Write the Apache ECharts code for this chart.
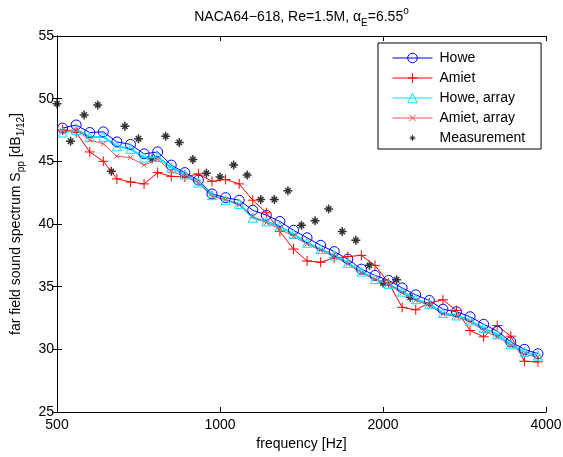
<!DOCTYPE html>
<html><head><meta charset="utf-8">
<script src="https://cdn.jsdelivr.net/npm/echarts@6/dist/echarts.min.js"></script>
<style>html,body{margin:0;padding:0;background:#fff}#c{width:563px;height:457px}</style>
</head><body><div id="c"></div>
<script>
// 1/12-octave band centre frequencies of the model predictions [Hz]
const modelFreq = [512, 542.44, 574.70, 608.87, 645.08, 683.44, 724.08, 767.13, 812.75, 861.08, 912.28, 966.53,
  1024, 1084.89, 1149.40, 1217.75, 1290.16, 1366.87, 1448.15, 1534.27, 1625.50, 1722.16, 1824.56, 1933.06,
  2048, 2169.78, 2298.80, 2435.50, 2580.32, 2733.75, 2896.31, 3068.54, 3251.00, 3444.31, 3649.12, 3866.11];
// measurement band frequencies [Hz]
const measFreq = [500, 529.7, 561.2, 594.6, 630.0, 667.4, 707.1, 749.2, 793.7, 840.9, 890.9, 943.9,
  1000, 1059.5, 1122.5, 1189.2, 1259.9, 1334.8, 1414.2, 1498.3, 1587.4, 1681.8, 1781.8, 1887.7, 2000, 2118.9, 2244.9];

const howe = [47.65, 47.9, 47.3, 47.35, 46.55, 46.35, 45.6, 45.75, 44.7, 44.1, 43.5, 42.4, 42.1, 41.9, 41.1, 40.7,
  40.2, 39.5, 38.9, 38.3, 37.8, 37.2, 36.4, 35.9, 35.5, 34.9, 34.35, 33.9, 33.2, 33.0, 32.6, 32.0, 31.45, 30.6, 30.0, 29.65];
const amiet = [47.5, 47.3, 45.75, 45.0, 43.6, 43.35, 43.2, 44.1, 43.8, 43.75, 44.0, 43.4, 43.55, 43.2, 41.9, 40.9,
  39.4, 38.0, 37.05, 36.95, 37.3, 37.4, 37.5, 36.7, 35.3, 33.35, 33.15, 33.7, 33.95, 33.1, 31.5, 31.0, 31.9, 31.05, 29.05, 29.0];
const howeArray = [47.3, 47.5, 46.95, 46.95, 46.2, 46.0, 45.3, 45.35, 44.5, 43.95, 43.3, 42.3, 41.9, 41.6, 40.5, 40.2,
  39.8, 39.2, 38.5, 38.0, 37.5, 36.9, 36.2, 35.6, 35.2, 34.6, 34.0, 33.6, 32.9, 32.7, 32.3, 31.7, 31.2, 30.4, 29.8, 29.5];
const amietArray = [47.45, 47.5, 46.7, 46.4, 45.4, 45.3, 44.7, 45.15, 44.2, 43.8, 43.3, 42.2, 41.95, 41.5, 40.6, 40.1,
  39.6, 39.0, 38.4, 37.9, 37.4, 36.8, 36.1, 35.6, 35.2, 34.5, 33.9, 33.5, 32.8, 32.6, 32.2, 31.5, 31.0, 30.3, 29.6, 29.4];
const measurement = [49.6, 46.6, 48.7, 49.5, 44.2, 47.8, 46.8, 45.2, 47.0, 46.5, 45.15, 44.05, 43.75, 44.7, 43.9, 41.95,
  41.95, 42.65, 39.9, 40.25, 41.2, 39.4, 38.7, 36.7, 35.3, 35.55, 34.15];

const xTickFreqs = [500, 1000, 2000, 4000];
const yTicks = [25, 30, 35, 40, 45, 50, 55];

const F0 = xTickFreqs[0];
const toX = f => Math.log2(f / F0);
const pairs = (fs, vs) => vs.map((v, i) => [toX(fs[i]), v]);

const FONT = 'Liberation Sans';
const PLUS = 'path://M5,0 L5,10 M0,5 L10,5';
const CROSS = 'path://M-2.5,-2.5 M12.5,12.5 M0,0 L10,10 M10,0 L0,10';
const STAR = 'path://M0,0 M20,20 M10,5 L10,15 M5,10 L15,10 M7,7 L13,13 M13,7 L7,13';

const chart = echarts.init(document.getElementById('c'), null, {renderer: 'canvas'});
const axisCommon = {
  type: 'value', min: 0, max: toX(xTickFreqs[3]), interval: 1,
  axisLine: {show: true, lineStyle: {color: '#000', width: 1}},
  axisTick: {show: true, inside: true, length: 5, lineStyle: {color: '#000'}},
  splitLine: {show: false}
};
const yCommon = {
  type: 'value', min: yTicks[0], max: yTicks[yTicks.length - 1], interval: 5,
  axisLine: {show: true, lineStyle: {color: '#000', width: 1}},
  axisTick: {show: true, inside: true, length: 5, lineStyle: {color: '#000'}},
  splitLine: {show: false}
};

chart.setOption({
  animation: false,
  backgroundColor: '#fff',
  textStyle: {fontFamily: FONT},
  title: {
    text: 'NACA64\u2212618, Re=1.5M, \u03b1{sub|E}=6.55{sup|o}',
    left: 296.5, top: 1, textAlign: 'center',
    textStyle: {
      fontFamily: FONT, fontSize: 14, fontWeight: 'normal', color: '#000', lineHeight: 22,
      rich: {
        sub: {fontFamily: FONT, fontSize: 10, lineHeight: 10, verticalAlign: 'bottom', color: '#000'},
        sup: {fontFamily: FONT, fontSize: 10, lineHeight: 10, verticalAlign: 'top', color: '#000'}
      }
    }
  },
  grid: {left: 57, right: 17, top: 36, bottom: 45, show: false, outerBoundsMode: 'none', containLabel: false},
  xAxis: [
    Object.assign({}, axisCommon, {
      position: 'bottom',
      axisLabel: {show: true, fontSize: 14, color: '#000', fontFamily: FONT, margin: 6,
        formatter: v => String(Math.round(F0 * Math.pow(2, v)))},
      name: 'frequency [Hz]', nameLocation: 'middle', nameGap: 25,
      nameTextStyle: {fontSize: 14, color: '#000', fontFamily: FONT}
    }),
    Object.assign({}, axisCommon, {position: 'top', axisLabel: {show: false}})
  ],
  yAxis: [
    Object.assign({}, yCommon, {
      position: 'left',
      axisLabel: {show: true, fontSize: 14, color: '#000', fontFamily: FONT, margin: 3},
      name: 'far field sound spectrum S{sub|pp} [dB{sub|1/12}]',
      nameLocation: 'middle', nameGap: 31,
      nameTextStyle: {fontSize: 14, color: '#000', fontFamily: FONT, lineHeight: 20,
        rich: {sub: {fontFamily: FONT, fontSize: 10, lineHeight: 10, verticalAlign: 'bottom', color: '#000'}}}
    }),
    Object.assign({}, yCommon, {position: 'right', axisLabel: {show: false}})
  ],
  legend: {
    orient: 'vertical', left: 378, top: 43,
    backgroundColor: '#fff', borderColor: '#000', borderWidth: 1, borderRadius: 0,
    padding: [8, 16, 4, 14],
    itemWidth: 40, itemHeight: 12, itemGap: 6,
    lineStyle: {width: 1},
    itemStyle: {borderWidth: 1},
    textStyle: {fontSize: 14, color: '#000', fontFamily: FONT, padding: [0, 0, 0, 2]},
    data: ['Howe', 'Amiet', 'Howe, array', 'Amiet, array', 'Measurement']
  },
  series: [
    {
      name: 'Howe', type: 'line', data: pairs(modelFreq, howe),
      symbol: 'circle', symbolSize: 10,
      itemStyle: {color: 'rgba(0,0,0,0)', borderColor: '#0000ff', borderWidth: 1},
      lineStyle: {color: '#0000ff', width: 1}
    },
    {
      name: 'Amiet', type: 'line', data: pairs(modelFreq, amiet),
      symbol: PLUS, symbolSize: 10,
      itemStyle: {color: '#ff0000', borderColor: '#ff0000', borderWidth: 1},
      lineStyle: {color: '#ff0000', width: 1}
    },
    {
      name: 'Howe, array', type: 'line', data: pairs(modelFreq, howeArray),
      symbol: 'triangle', symbolSize: 9,
      itemStyle: {color: 'rgba(0,0,0,0)', borderColor: '#00e5ff', borderWidth: 1},
      lineStyle: {color: '#00e5ff', width: 2}
    },
    {
      name: 'Amiet, array', type: 'line', data: pairs(modelFreq, amietArray),
      symbol: CROSS, symbolSize: 7,
      itemStyle: {color: '#ee5050', borderColor: '#ee5050', borderWidth: 1},
      lineStyle: {color: '#ee5050', width: 1}
    },
    {
      name: 'Measurement', type: 'scatter', data: pairs(measFreq, measurement),
      symbol: STAR, symbolSize: 18,
      itemStyle: {color: '#000', borderColor: '#000', borderWidth: 1.5}
    }
  ]
});
</script>
</body></html>
